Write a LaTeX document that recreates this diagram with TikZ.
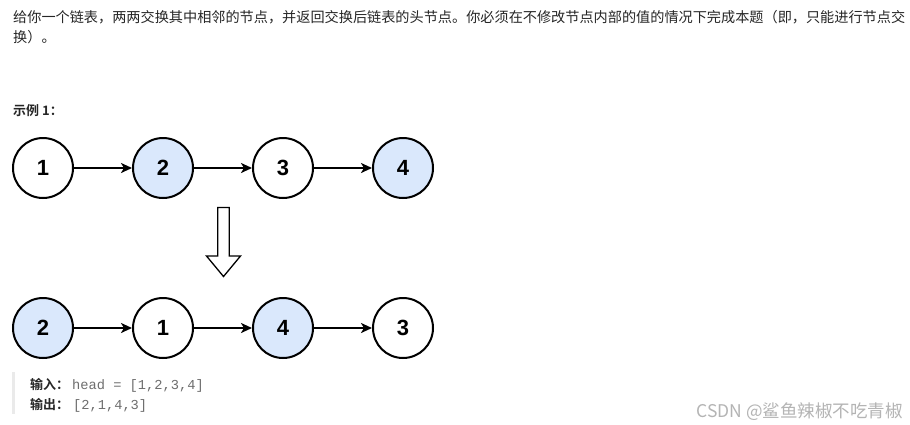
\documentclass[tikz,border=0pt]{standalone}
\usepackage{fontspec}
\setmainfont{Liberation Sans}
\newfontfamily\cjk{Noto Sans CJK SC}
\newfontfamily\cjkb{Noto Sans CJK SC}[BoldFont={* Bold}]
\newfontfamily\monof{Liberation Mono}
\newfontfamily\numf{Liberation Sans}
\usetikzlibrary{arrows.meta}
\definecolor{nodeblue}{HTML}{DAE8FC}
\definecolor{textc}{HTML}{262626}
\definecolor{codec}{HTML}{6E6E6E}
\definecolor{barc}{HTML}{EAEAEA}
\definecolor{wmc}{HTML}{B4B4B4}
\newcommand{\lineone}{给你一个链表，两两交换其中相邻的节点，并返回交换后链表的头节点。你必须在不修改节点内部的值的情况下完成本题（即，只能进行节点交}
\newcommand{\linetwo}{换）。}
\newsavebox{\measbox}
\newlength{\measlen}
\tikzset{
  lnode/.style={circle, draw=black, line width=2pt, minimum size=60pt, inner sep=0pt, fill=white, font=\numf\fontsize{22}{26}\selectfont\bfseries},
  bnode/.style={lnode, fill=nodeblue},
  link/.style={line width=2pt, -{Stealth[length=11pt,width=10pt,inset=3pt]}},
  para/.style={anchor=base west, inner sep=0pt, text=textc},
  codetxt/.style={anchor=base west, inner sep=0pt, text=codec, font=\monof\fontsize{13.7}{16}\selectfont},
  lbl/.style={anchor=base west, inner sep=0pt, text=textc, font=\cjkb\fontsize{13}{16}\selectfont\bfseries}
}
\begin{document}
\settowidth{\measlen}{\cjk\fontsize{14}{17}\selectfont\lineone}%
\pgfmathsetmacro{\pfac}{892/\measlen}%
\begin{tikzpicture}[x=1pt,y=-1pt]
\useasboundingbox[fill=white] (0,0) rectangle (910,424);
% paragraph
\node[para] (p1) at (13,22.4) {\scalebox{\pfac}{\cjk\fontsize{14}{17}\selectfont\lineone}};
\node[para] (p2) at (13,42.4) {\scalebox{\pfac}{\cjk\fontsize{14}{17}\selectfont\linetwo}};
\node[lbl] (ex) at (13,115) {示例 1：};
% first list
\node[lnode] (a1) at (43,168) {1};
\node[bnode] (a2) at (163,168) {2};
\node[lnode] (a3) at (283,168) {3};
\node[bnode] (a4) at (403,168) {4};
\draw[link] (a1) -- (a2);
\draw[link] (a2) -- (a3);
\draw[link] (a3) -- (a4);
% block arrow
\draw[line width=1.3pt, fill=white, line join=miter]
  (217.7,207.5) -- (229.3,207.5) -- (229.3,256) -- (240.5,256) -- (223.5,276.5)
  -- (206.5,256) -- (217.7,256) -- cycle;
% second list
\node[bnode] (b1) at (43,328) {2};
\node[lnode] (b2) at (163,328) {1};
\node[bnode] (b3) at (283,328) {4};
\node[lnode] (b4) at (403,328) {3};
\draw[link] (b1) -- (b2);
\draw[link] (b2) -- (b3);
\draw[link] (b3) -- (b4);
% example block
\fill[barc] (12,372) rectangle (15,414);
\node[lbl] (in) at (30,389) {输入：};
\node[codetxt] (inv) at (72,389) {head = [1,2,3,4]};
\node[lbl] (out) at (30,409) {输出：};
\node[codetxt] (outv) at (73,409) {[2,1,4,3]};
% watermark
\node[anchor=base east, inner sep=0pt, text=wmc, font=\cjk\fontsize{17.5}{20}\selectfont] (wm) at (903,417) {CSDN @鲨鱼辣椒不吃青椒};
\end{tikzpicture}
\end{document}
